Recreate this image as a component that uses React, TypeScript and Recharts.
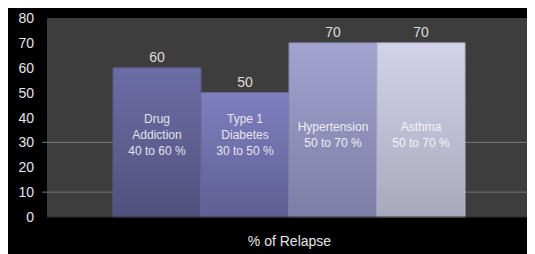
import React from 'react';
import { BarChart, Bar, XAxis, YAxis, CartesianGrid, Cell, LabelList } from 'recharts';

const categories = ['Drug Addiction', 'Type 1 Diabetes', 'Hypertension', 'Asthma'];
const relapse = [60, 50, 70, 70];
const innerLabels = [
  ['Drug', 'Addiction', '40 to 60 %'],
  ['Type 1', 'Diabetes', '30 to 50 %'],
  ['Hypertension', '50 to 70 %'],
  ['Asthma', '50 to 70 %'],
];
const yTicks = [0, 10, 20, 30, 40, 50, 60, 70, 80];
const gridValues = [10, 30];
const axisTitle = '% of Relapse';

const barTop = ['#6d6da6', '#7f7fbf', '#a3a3d0', '#d2d2ea'];
const barBottom = ['#51517e', '#5f5f93', '#7d7da6', '#a9a9bd'];
const barEdge = ['#5a5a88', '#6a6aa0', '#8a8ab0', '#b5b5c8'];
const innerText = ['#e2e2ea', '#e6e6ee', '#eeeef4', '#f4f4f8'];

const data = categories.map((c, i) => ({ name: c, value: relapse[i], lines: innerLabels[i] }));

const FONT = '"Liberation Sans", Arial, sans-serif';

const YTick = (props: any) => {
  const { x, y, payload } = props;
  const v = payload.value;
  return (
    <g>
      {gridValues.includes(v) ? (
        <line x1={x + 8} x2={x + 13} y1={y} y2={y} stroke="#7a7a7a" strokeWidth={1} />
      ) : null}
      <text x={x} y={y} dy="0.36em" textAnchor="end" fill="#e6e6e6" fontSize={14} fontFamily={FONT}>
        {v}
      </text>
    </g>
  );
};

const InnerLabel = (props: any) => {
  const { x, y, width, height, index } = props;
  const lines: string[] = innerLabels[index];
  const lh = 16;
  const cx = x + width / 2;
  const center = y + height - 82;
  const start = center - ((lines.length - 1) * lh) / 2;
  return (
    <g>
      {lines.map((t, k) => (
        <text
          key={k}
          x={cx}
          y={start + k * lh}
          dy="0.36em"
          textAnchor="middle"
          fill={innerText[index]}
          fontSize={12}
          fontFamily={FONT}
        >
          {t}
        </text>
      ))}
    </g>
  );
};

const TopLabel = (props: any) => {
  const { x, y, width, value } = props;
  return (
    <text x={x + width / 2} y={y - 11} dy="0.36em" textAnchor="middle" fill="#dcdcdc" fontSize={14} fontFamily={FONT}>
      {value}
    </text>
  );
};

export default function App() {
  return (
    <div style={{ width: 527, height: 249, background: '#000', marginTop: -3 }}>
      <BarChart
        width={527}
        height={249}
        data={data}
        margin={{ top: 13, right: 3, left: 0, bottom: 0 }}
        barCategoryGap={0}
        barGap={0}
      >
        <defs>
          {barTop.map((c, i) => (
            <linearGradient key={i} id={`bg${i}`} x1="0" y1="0" x2="0" y2="1">
              <stop offset="0%" stopColor={c} />
              <stop offset="100%" stopColor={barBottom[i]} />
            </linearGradient>
          ))}
        </defs>
        <CartesianGrid
          vertical={false}
          horizontalValues={gridValues}
          stroke="#7a7a7a"
          fill="#3d3d3d"
          fillOpacity={1}
        />
        <XAxis
          dataKey="name"
          tick={false}
          tickLine={false}
          axisLine={{ stroke: '#2a2a2a' }}
          height={37}
          padding={{ left: 66, right: 67 }}
          label={{ value: axisTitle, position: 'insideBottom', offset: 8, fill: '#e6e6e6', fontSize: 14, fontFamily: FONT }}
        />
        <YAxis
          domain={[0, 80]}
          ticks={yTicks}
          width={39}
          tickLine={false}
          axisLine={false}
          tickSize={5}
          tickMargin={8}
          tick={<YTick />}
          interval={0}
        />
        <Bar dataKey="value" isAnimationActive={false}>
          {data.map((d, i) => (
            <Cell key={d.name} fill={`url(#bg${i})`} stroke={barEdge[i]} strokeWidth={1} />
          ))}
          <LabelList dataKey="value" content={<TopLabel />} />
          <LabelList dataKey="value" content={<InnerLabel />} />
        </Bar>
      </BarChart>
    </div>
  );
}
